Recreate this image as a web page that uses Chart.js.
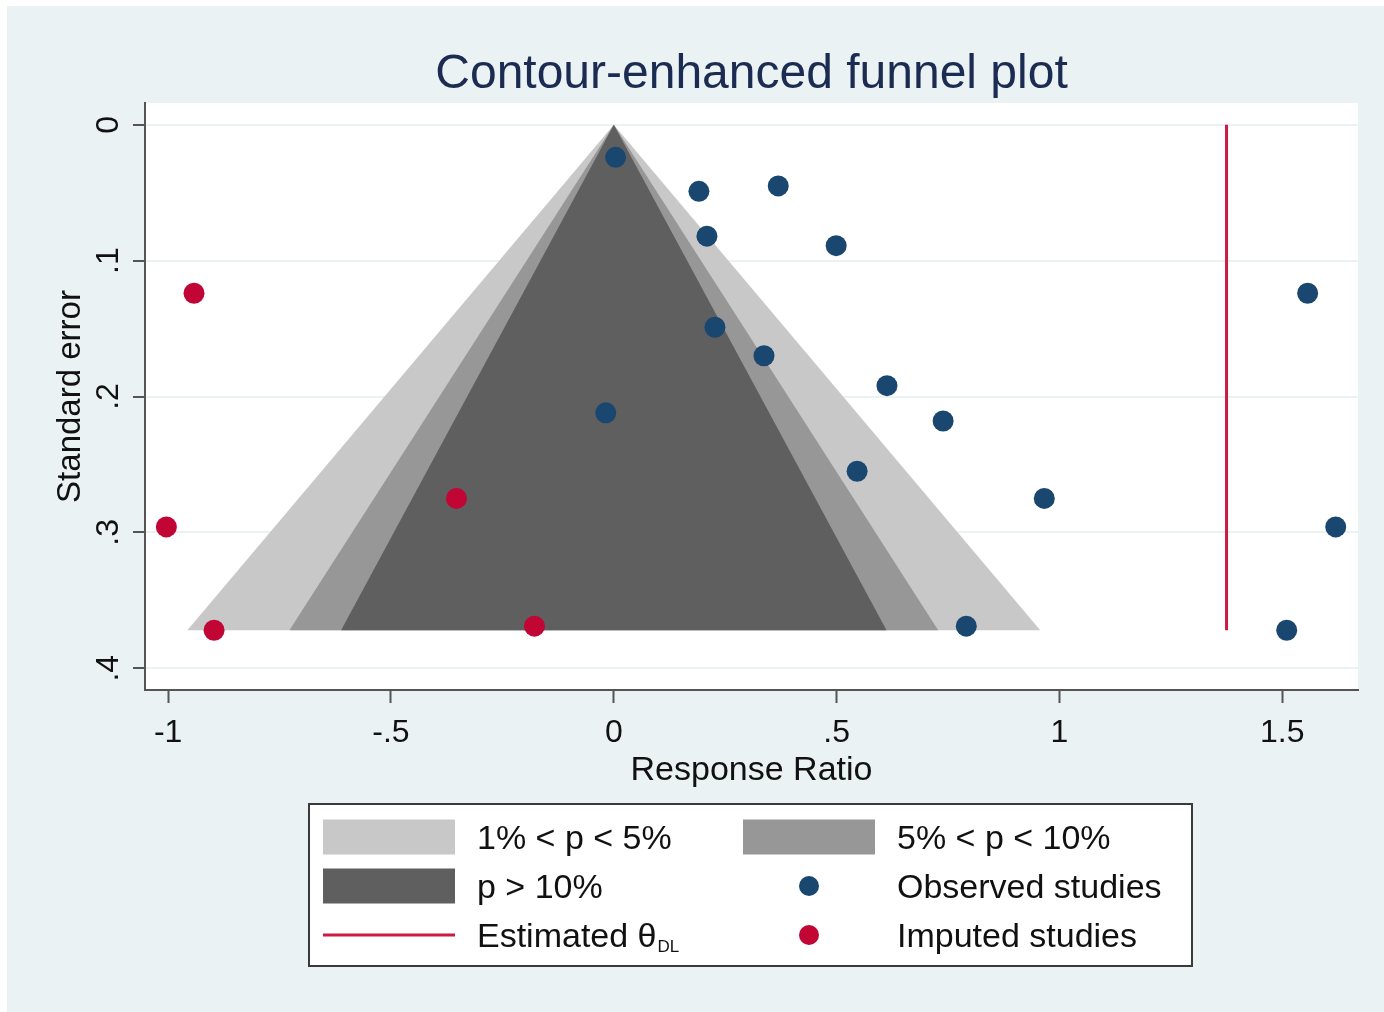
<!DOCTYPE html>
<html>
<head>
<meta charset="utf-8">
<title>Contour-enhanced funnel plot</title>
<script src="https://cdn.jsdelivr.net/npm/chart.js@4"></script>
<style>
  body { margin: 0; background: #fff; }
  #wrap { width: 1384px; height: 1012px; }
</style>
</head>
<body>
<div id="wrap"><canvas id="funnel" width="1384" height="1012"></canvas></div>
<script>
// values
const rrTicks = [-1, -0.5, 0, 0.5, 1, 1.5];
const rrTickLabels = ["-1", "-.5", "0", ".5", "1", "1.5"];
const seTicks = [0, 0.1, 0.2, 0.3, 0.4];
const seTickLabels = ["0", ".1", ".2", ".3", ".4"];

const observedRR = [0.004, 0.191, 0.369, 0.209, 0.499, 1.557, 0.227, 0.337, 0.613, 0.739, -0.018, 0.546, 0.966, 1.620, 0.791, 1.510];
const observedSE = [0.024, 0.049, 0.045, 0.082, 0.089, 0.124, 0.149, 0.170, 0.192, 0.218, 0.212, 0.255, 0.275, 0.296, 0.369, 0.372];

const imputedRR = [-0.942, -0.353, -1.004, -0.178, -0.897];
const imputedSE = [0.124, 0.275, 0.296, 0.369, 0.372];

// contour regions: half width of each triangle at its base
const contourLabels = ["1% < p < 5%", "5% < p < 10%", "p > 10%"];
const contourHalfWidth = [0.957, 0.728, 0.612];
const contourColors = ["#c8c8c8", "#979797", "#5f5f5f"];
const funnelBaseSE = 0.372;

const estimateDL = 1.375;

const FONT = '"Liberation Sans", Arial, sans-serif';
const blue = "#1a476f";
const red = "#c10534";
const lineRed = "#cc1a44";

function triangle(hw) {
  return [
    { x: -hw, y: funnelBaseSE },
    { x: 0, y: 0 },
    { x: hw, y: funnelBaseSE },
  ];
}

function toPoints(xs, ys) {
  return xs.map((x, i) => ({ x: x, y: ys[i] }));
}

const funnelSets = contourLabels.map((lab, i) => ({
  type: "line",
  label: lab,
  data: triangle(contourHalfWidth[i]),
  showLine: true,
  fill: { value: funnelBaseSE },
  backgroundColor: contourColors[i],
  borderColor: "rgba(0,0,0,0)",
  borderWidth: 0,
  pointRadius: 0,
  tension: 0,
}));

// page background, plot region, title, rotated y labels, axis titles
const decorPlugin = {
  id: "decor",
  beforeDraw(chart) {
    const ctx = chart.ctx;
    const a = chart.chartArea;
    ctx.save();
    ctx.fillStyle = "#ffffff";
    ctx.fillRect(0, 0, chart.width, chart.height);
    ctx.fillStyle = "#eaf2f3";
    ctx.fillRect(7, 6, chart.width - 7, chart.height - 6);
    ctx.fillStyle = "#ffffff";
    ctx.fillRect(a.left, a.top, a.right - a.left, a.bottom - a.top);
    ctx.restore();
  },
  afterDraw(chart) {
    const ctx = chart.ctx;
    const a = chart.chartArea;
    const yScale = chart.scales.y;
    const midX = (a.left + a.right) / 2;
    ctx.save();

    ctx.fillStyle = "#1c2b52";
    ctx.font = "48px " + FONT;
    ctx.textAlign = "center";
    ctx.textBaseline = "alphabetic";
    ctx.fillText("Contour-enhanced funnel plot", midX, 88);

    ctx.fillStyle = "#111";
    ctx.font = "34px " + FONT;
    ctx.fillText("Response Ratio", midX, 780);

    seTicks.forEach((v, i) => {
      const py = yScale.getPixelForValue(v);
      ctx.save();
      ctx.translate(118, py);
      ctx.rotate(-Math.PI / 2);
      ctx.font = "32px " + FONT;
      ctx.fillText(seTickLabels[i], 0, 0);
      ctx.restore();
    });

    ctx.save();
    ctx.translate(80, (a.top + a.bottom) / 2);
    ctx.rotate(-Math.PI / 2);
    ctx.font = "33px " + FONT;
    ctx.fillText("Standard error", 0, 0);
    ctx.restore();

    ctx.restore();
  },
};

// legend box under the plot
const legendPlugin = {
  id: "funnelLegend",
  afterDraw(chart) {
    const ctx = chart.ctx;
    ctx.save();
    ctx.fillStyle = "#ffffff";
    ctx.fillRect(309, 804, 883, 162);
    ctx.strokeStyle = "#3a3a3a";
    ctx.lineWidth = 2;
    ctx.strokeRect(309, 804, 883, 162);

    const rowY = [837, 886, 935];
    const col = [{ sw: 323, tx: 477 }, { sw: 743, tx: 897 }];
    const swW = 132, swH = 35;

    ctx.fillStyle = contourColors[0];
    ctx.fillRect(col[0].sw, rowY[0] - swH / 2, swW, swH);
    ctx.fillStyle = contourColors[1];
    ctx.fillRect(col[1].sw, rowY[0] - swH / 2, swW, swH);
    ctx.fillStyle = contourColors[2];
    ctx.fillRect(col[0].sw, rowY[1] - swH / 2, swW, swH);

    ctx.strokeStyle = lineRed;
    ctx.lineWidth = 3;
    ctx.beginPath();
    ctx.moveTo(col[0].sw, rowY[2]);
    ctx.lineTo(col[0].sw + swW, rowY[2]);
    ctx.stroke();

    ctx.fillStyle = blue;
    ctx.beginPath();
    ctx.arc(809, rowY[1], 10, 0, Math.PI * 2);
    ctx.fill();
    ctx.fillStyle = red;
    ctx.beginPath();
    ctx.arc(809, rowY[2], 10, 0, Math.PI * 2);
    ctx.fill();

    ctx.fillStyle = "#111";
    ctx.font = "34px " + FONT;
    ctx.textAlign = "left";
    ctx.textBaseline = "alphabetic";
    ctx.fillText(contourLabels[0], col[0].tx, rowY[0] + 12);
    ctx.fillText(contourLabels[1], col[1].tx, rowY[0] + 12);
    ctx.fillText(contourLabels[2], col[0].tx, rowY[1] + 12);
    ctx.fillText("Observed studies", col[1].tx, rowY[1] + 12);
    ctx.fillText("Imputed studies", col[1].tx, rowY[2] + 12);
    const est = "Estimated \u03b8";
    ctx.fillText(est, col[0].tx, rowY[2] + 12);
    const w = ctx.measureText(est).width;
    ctx.font = "17px " + FONT;
    ctx.fillText("DL", col[0].tx + w + 1, rowY[2] + 17);
    ctx.restore();
  },
};

const ctx = document.getElementById("funnel").getContext("2d");
new Chart(ctx, {
  type: "scatter",
  data: {
    datasets: [
      {
        label: "Observed studies",
        data: toPoints(observedRR, observedSE),
        backgroundColor: blue,
        borderWidth: 0,
        pointRadius: 10.5,
        pointHoverRadius: 10.5,
      },
      {
        label: "Imputed studies",
        data: toPoints(imputedRR, imputedSE),
        backgroundColor: red,
        borderWidth: 0,
        pointRadius: 10.5,
        pointHoverRadius: 10.5,
      },
      {
        type: "line",
        label: "Estimated",
        data: [{ x: estimateDL, y: 0 }, { x: estimateDL, y: funnelBaseSE }],
        showLine: true,
        borderColor: lineRed,
        borderWidth: 3,
        pointRadius: 0,
        fill: false,
      },
      funnelSets[2],
      funnelSets[1],
      funnelSets[0],
    ],
  },
  options: {
    responsive: false,
    animation: false,
    events: [],
    layout: { padding: { top: 103, right: 26, bottom: 212, left: 0 } },
    plugins: {
      legend: { display: false },
      tooltip: { enabled: false },
      title: { display: false },
    },
    scales: {
      x: {
        type: "linear",
        min: -1.052,
        max: 1.67,
        afterBuildTicks: (scale) => {
          scale.ticks = rrTicks.map((v) => ({ value: v }));
        },
        afterFit: (scale) => {
          scale.height = 110;
        },
        ticks: {
          padding: 11,
          color: "#111",
          font: { family: FONT, size: 32 },
          maxRotation: 0,
          callback: (v) => rrTickLabels[rrTicks.indexOf(v)],
        },
        grid: {
          drawOnChartArea: false,
          tickLength: 13,
          tickColor: "#555",
          tickWidth: 2,
        },
        border: { color: "#555", width: 2 },
      },
      y: {
        type: "linear",
        reverse: true,
        min: -0.016,
        max: 0.416,
        afterBuildTicks: (scale) => {
          scale.ticks = seTicks.map((v) => ({ value: v }));
        },
        afterFit: (scale) => {
          scale.width = 145;
        },
        ticks: { display: false },
        grid: {
          color: "#eaf2f3",
          lineWidth: 2,
          tickLength: 12,
          tickColor: "#555",
          tickWidth: 2,
        },
        border: { color: "#555", width: 2 },
      },
    },
  },
  plugins: [decorPlugin, legendPlugin],
});
</script>
</body>
</html>
